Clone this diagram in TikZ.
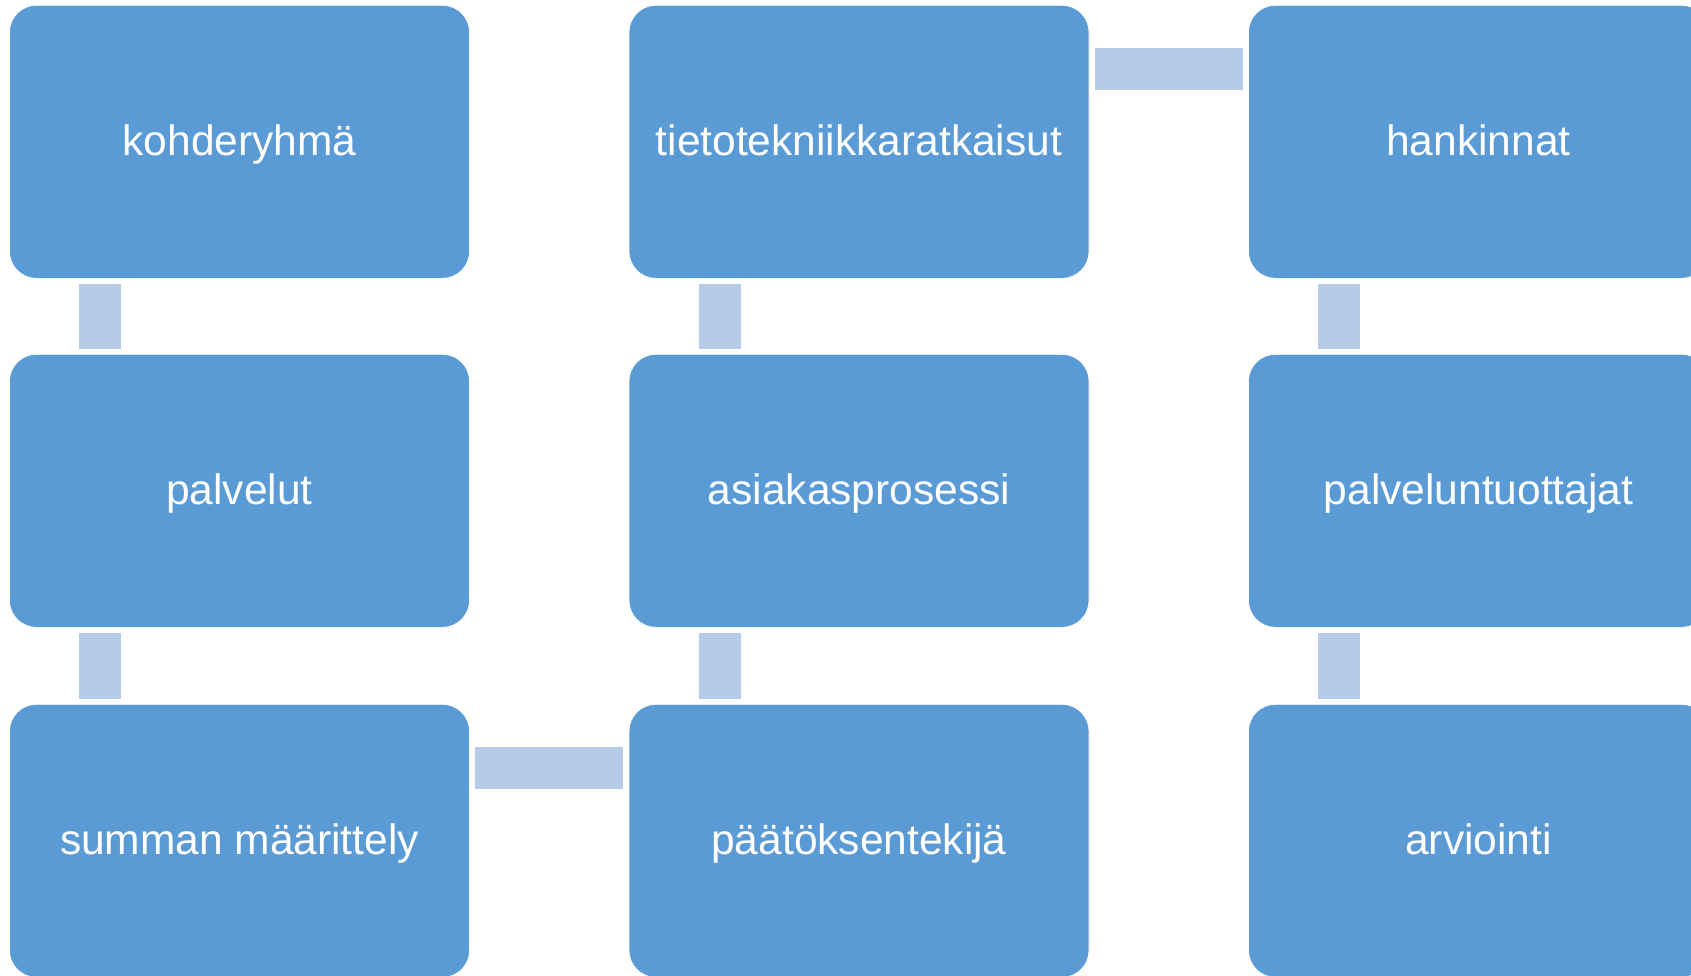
\documentclass[tikz,border=0pt]{standalone}
\usepackage{fontspec}
\setmainfont{Liberation Sans}
\definecolor{boxblue}{RGB}{91,155,213}
\definecolor{connblue}{RGB}{181,203,232}
\tikzset{
  stagebox/.style={rectangle, rounded corners=27pt, fill=boxblue, draw=white, line width=0.6pt,
    minimum width=460pt, minimum height=273pt, inner sep=0pt, text=white,
    text height=32pt, text depth=5.6pt,
    font=\fontsize{42.5pt}{50pt}\selectfont},
  conn/.style={draw=connblue, line width=42pt, line cap=butt}
}
\begin{document}
\begin{tikzpicture}[x=1pt,y=-1pt]
\useasboundingbox (0,0) rectangle (1691,975);
\clip (0,0) rectangle (1691,975);
\node[stagebox] (a1) at (239.5,141.8) {kohderyhmä};
\node[stagebox] (a2) at (239.5,490.8) {palvelut};
\node[stagebox] (a3) at (239.5,840.8) {summan määrittely};
\node[stagebox] (b1) at (859,141.8) {tietotekniikkaratkaisut};
\node[stagebox] (b2) at (859,490.8) {asiakasprosessi};
\node[stagebox] (b3) at (859,840.8) {päätöksentekijä};
\node[stagebox] (c1) at (1478.5,141.8) {hankinnat};
\node[stagebox] (c2) at (1478.5,490.8) {palveluntuottajat};
\node[stagebox] (c3) at (1478.5,840.8) {arviointi};
% vertical connectors
\foreach \u/\v in {a1/a2,a2/a3,b1/b2,b2/b3,c1/c2,c2/c3}{
  \draw[conn] ([xshift=91pt,yshift=-5.5pt]\u.south west) -- ([xshift=91pt,yshift=5.5pt]\v.north west);
}
% horizontal connectors
\draw[conn] ([xshift=5.5pt,yshift=-64.2pt]a3.north east) -- ([xshift=-5.5pt,yshift=-64.2pt]b3.north west);
\draw[conn] ([xshift=5.5pt,yshift=-64.2pt]b1.north east) -- ([xshift=-5.5pt,yshift=-64.2pt]c1.north west);
\end{tikzpicture}
\end{document}
